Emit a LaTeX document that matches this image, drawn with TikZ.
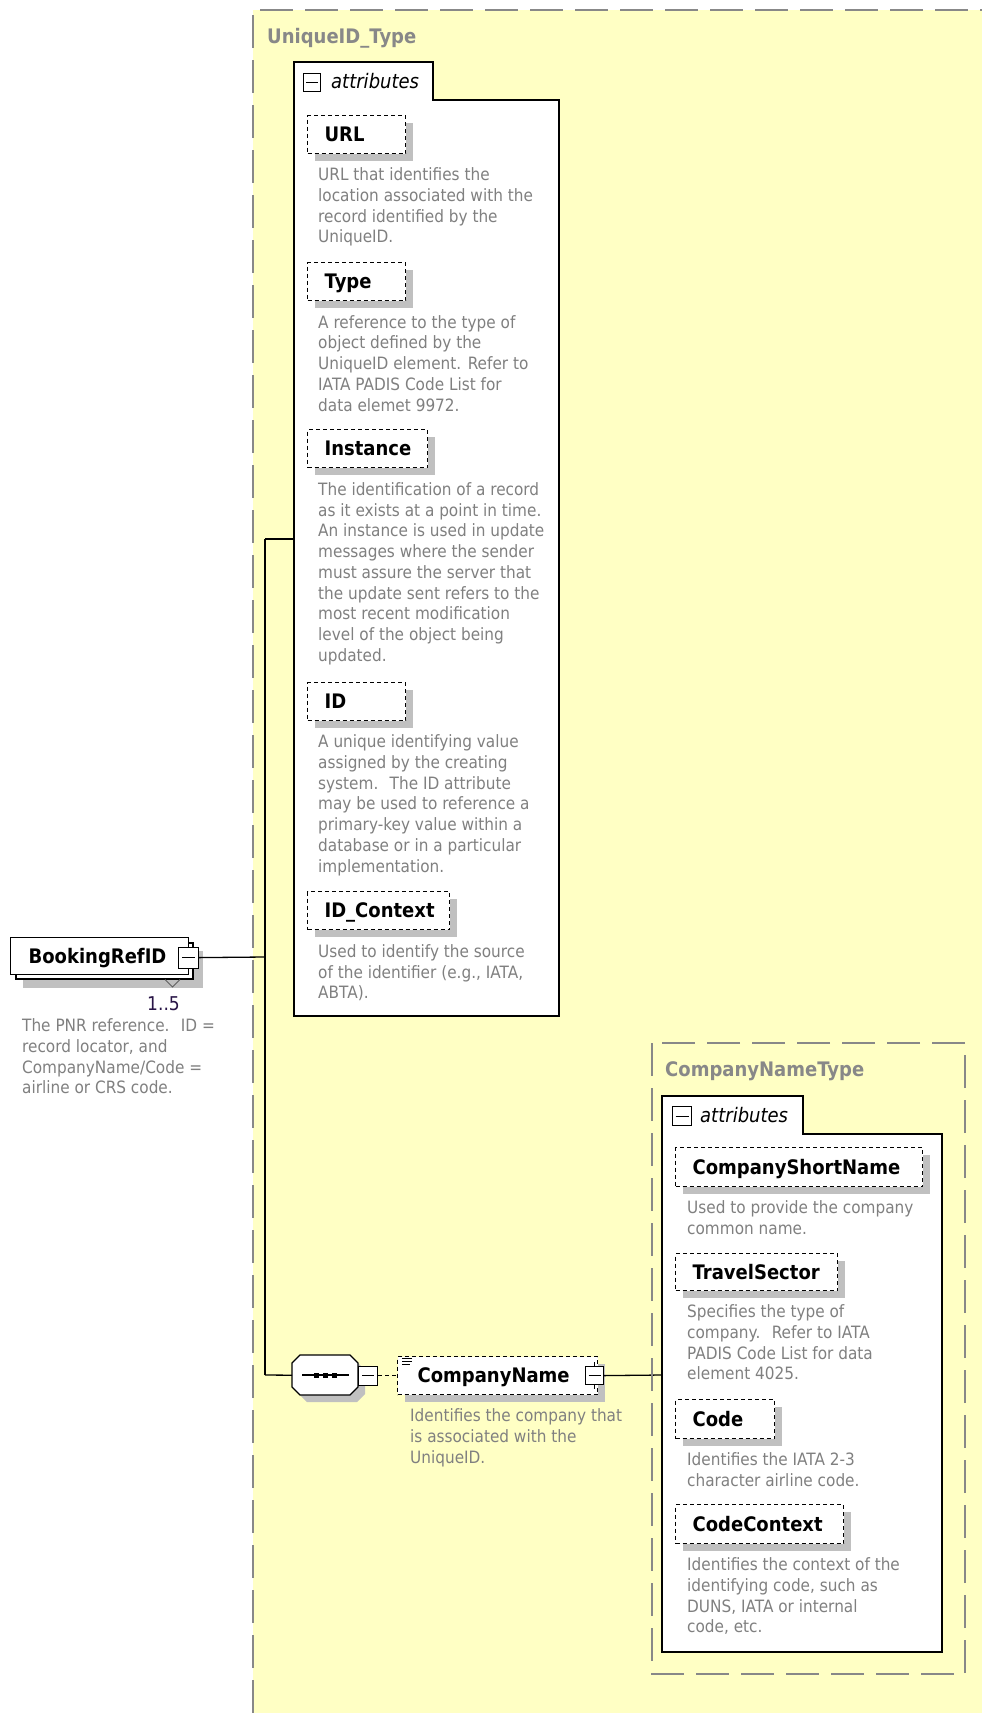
\documentclass[tikz,border=0pt]{standalone}
\usepackage{fontspec}
\setmainfont{DejaVu Sans}[FakeStretch=0.9]
\usetikzlibrary{shadows}
\definecolor{ybg}{RGB}{255,255,196}
\definecolor{bordergray}{RGB}{136,136,136}
\definecolor{shd}{RGB}{192,192,192}
\definecolor{desccol}{RGB}{128,128,128}
\definecolor{multcol}{RGB}{40,20,70}
\definecolor{chevcol}{RGB}{96,96,96}
\newcommand{\lblfont}{\fontsize{20}{24}\selectfont\bfseries}
\newcommand{\descfont}{\fontsize{17}{20.75}\selectfont}
\begin{document}
\begin{tikzpicture}[x=1pt,y=-1pt,
 attrbox/.style={draw=black, line width=1.2pt, dash pattern=on 4pt off 3pt, fill=white,
   general shadow={fill=shd, shadow xshift=7pt, shadow yshift=-7pt},
   anchor=north west, inner xsep=17pt, inner ysep=0pt, minimum height=38pt,
   text height=18pt, text depth=3.4pt, align=left, font=\lblfont},
 elembox/.style={draw=black, line width=1.2pt, fill=white, anchor=north west,
   inner ysep=0pt, text height=18pt, text depth=3.4pt, align=left, font=\lblfont},
 desc/.style={anchor=north west, inner sep=0pt, align=left, text=desccol, font=\descfont},
 typelbl/.style={anchor=base west, inner sep=0pt, text=bordergray, font=\lblfont},
 attrlbl/.style={anchor=base west, inner sep=0pt, font=\fontsize{20}{24}\selectfont\itshape},
 minusbox/.style={draw=black, line width=1.2pt, fill=white, anchor=north west, inner sep=0pt},
 minusline/.style={draw=black, line width=1.2pt},
 typeframe/.style={draw=bordergray, line width=1.5pt, dash pattern=on 33pt off 12pt},
 tabframe/.style={draw=black, line width=1.5pt, fill=white},
 conn/.style={draw=black, line width=1.3pt},
]
% page and bounding box
\fill[white] (0,0) rectangle (982,1713);
\useasboundingbox (0,0) rectangle (982,1713);

% ---------- UniqueID_Type frame ----------
\fill[ybg] (253,10) rectangle (982,1713);
\draw[typeframe] (253,1713) -- (253,10) -- (982,10);
\node[typelbl] (utype) at (267,43) {UniqueID\_Type};

\draw[tabframe] (294,1016) -- (294,62) -- (433,62) -- (433,100) -- (559,100) -- (559,1016) -- cycle;
\node[minusbox, minimum width=17pt, minimum height=18pt] (uam) at (303,73) {};
\draw[minusline] ([xshift=3pt]uam.west) -- ([xshift=-3pt]uam.east);
\node[attrlbl] (ual) at (331,88) {attributes};

\node[attrbox, text width=64pt] (url) at (307,115) {URL};
\node[desc] (urld) at (318,166) {\strut URL that identifies the\\location associated with the\\record identified by the\\UniqueID.};

\node[attrbox, text width=64pt] (type) at (307,262) {Type};
\node[desc] (typed) at (318,313.5) {\strut A reference to the type of\\object defined by the\\UniqueID element. Refer to\\IATA PADIS Code List for\\data elemet 9972.};

\node[attrbox, text width=86pt] (inst) at (307,429) {Instance};
\node[desc] (instd) at (318,480.6) {\strut The identification of a record\\as it exists at a point in time.\\An instance is used in update\\messages where the sender\\must assure the server that\\the update sent refers to the\\most recent modification\\level of the object being\\updated.};

\node[attrbox, text width=64pt] (id) at (307,682) {ID};
\node[desc] (idd) at (318,733) {\strut A unique identifying value\\assigned by the creating\\system.~ The ID attribute\\may be used to reference a\\primary-key value within a\\database or in a particular\\implementation.};

\node[attrbox, text width=108pt] (idc) at (307,891) {ID\_Context};
\node[desc] (idcd) at (318,942.7) {\strut Used to identify the source\\of the identifier (e.g., IATA,\\ABTA).};

% ---------- BookingRefID ----------
\fill[shd] (23,951) rectangle (203,988);
\filldraw[fill=white, draw=black, line width=1.2pt] (16,943) rectangle (193,979);
\node[elembox, inner xsep=18pt, text width=142pt, minimum height=37pt] (book) at (10,937) {BookingRefID};
\node[minusbox, minimum width=20pt, minimum height=21pt] (bookm) at (178,946.5) {};
\draw[minusline] ([xshift=4pt]bookm.west) -- ([xshift=-4pt]bookm.east);
\draw[draw=chevcol, line width=1pt] (165,979.5) -- (172.5,987) -- (180,979.5);
\node[anchor=base west, inner sep=0pt, font=\fontsize{19}{22}\selectfont, text=multcol] (mult) at (147,1010) {1..5};
\node[desc] (bookd) at (22,1017) {\strut The PNR reference.~ ID =\\record locator, and\\CompanyName/Code =\\airline or CRS code.};

% ---------- connectors ----------
\coordinate (jb) at (265,957);
\coordinate (j1) at (265,539);
\coordinate (j2) at (265,1375);
\coordinate (uattrin) at (294,539);
\coordinate (cattrin) at (662,1375);
\draw[conn] (bookm.east) -- (jb);
\draw[conn] (j1) -- (j2);
\draw[conn] (j1) -- (uattrin);

% ---------- sequence ----------
\fill[shd] (307,1362) -- (357,1362) -- (365,1370) -- (365,1394) -- (357,1402) -- (307,1402) -- (299,1394) -- (299,1370) -- cycle;
\filldraw[fill=white, draw=black, line width=1.3pt] (300,1355) -- (350,1355) -- (358,1363) -- (358,1387) -- (350,1395) -- (300,1395) -- (292,1387) -- (292,1363) -- cycle;
\node[anchor=north west, minimum width=66pt, minimum height=40pt, inner sep=0pt] (seq) at (292,1355) {};
\draw[line width=1.3pt] (302,1375) -- (349,1375);
\fill (313.5,1372.5) rectangle (318.5,1377.5);
\fill (322.5,1372.5) rectangle (327.5,1377.5);
\fill (332,1372.5) rectangle (337,1377.5);
\draw[conn] (j2) -- (seq.west);
\node[minusbox, minimum width=19pt, minimum height=19pt] (seqm) at (358,1365.5) {};
\draw[minusline] ([xshift=4pt]seqm.west) -- ([xshift=-4pt]seqm.east);

% ---------- CompanyName ----------
\node[attrbox, inner xsep=20pt, text width=160pt, minimum height=38pt] (cname) at (397,1356) {CompanyName};
\draw[conn, dash pattern=on 4pt off 3pt] (seqm.east) -- (cname.west);
\draw[line width=1pt] (402,1358) -- (412,1358) (402,1361) -- (412,1361) (402,1364) -- (410,1364);
\node[minusbox, minimum width=18pt, minimum height=18pt] (cnm) at (585,1366) {};
\draw[minusline] ([xshift=3.5pt]cnm.west) -- ([xshift=-3.5pt]cnm.east);
\draw[line width=1.2pt] (cnm.north) -- ++(0,-4) (cnm.south) -- ++(0,4);
\draw[conn] (cnm.east) -- (cattrin);
\node[desc] (cnamed) at (410,1407) {\strut Identifies the company that\\is associated with the\\UniqueID.};

% ---------- CompanyNameType frame ----------
\draw[typeframe] (652,1043) rectangle (965,1674);
\node[typelbl] (ctype) at (665,1076) {CompanyNameType};
\draw[tabframe] (662,1652) -- (662,1096) -- (803,1096) -- (803,1134) -- (942,1134) -- (942,1652) -- cycle;
\node[minusbox, minimum width=19pt, minimum height=19pt] (cam) at (672,1106) {};
\draw[minusline] ([xshift=3.5pt]cam.west) -- ([xshift=-3.5pt]cam.east);
\node[attrlbl] (cal) at (700,1122) {attributes};

\node[attrbox, text width=213pt, minimum height=39pt] (csn) at (675,1147) {CompanyShortName};
\node[desc] (csnd) at (687,1199) {\strut Used to provide the company\\common name.};

\node[attrbox, text width=128pt, minimum height=37pt] (ts) at (675,1253) {TravelSector};
\node[desc] (tsd) at (687,1303) {\strut Specifies the type of\\company.~ Refer to IATA\\PADIS Code List for data\\element 4025.};

\node[attrbox, text width=65pt, minimum height=39pt] (code) at (675,1399) {Code};
\node[desc] (coded) at (687,1451) {\strut Identifies the IATA 2-3\\character airline code.};

\node[attrbox, text width=134pt, minimum height=39pt] (cc) at (675,1504) {CodeContext};
\node[desc] (ccd) at (687,1556) {\strut Identifies the context of the\\identifying code, such as\\DUNS, IATA or internal\\code, etc.};
\end{tikzpicture}
\end{document}
